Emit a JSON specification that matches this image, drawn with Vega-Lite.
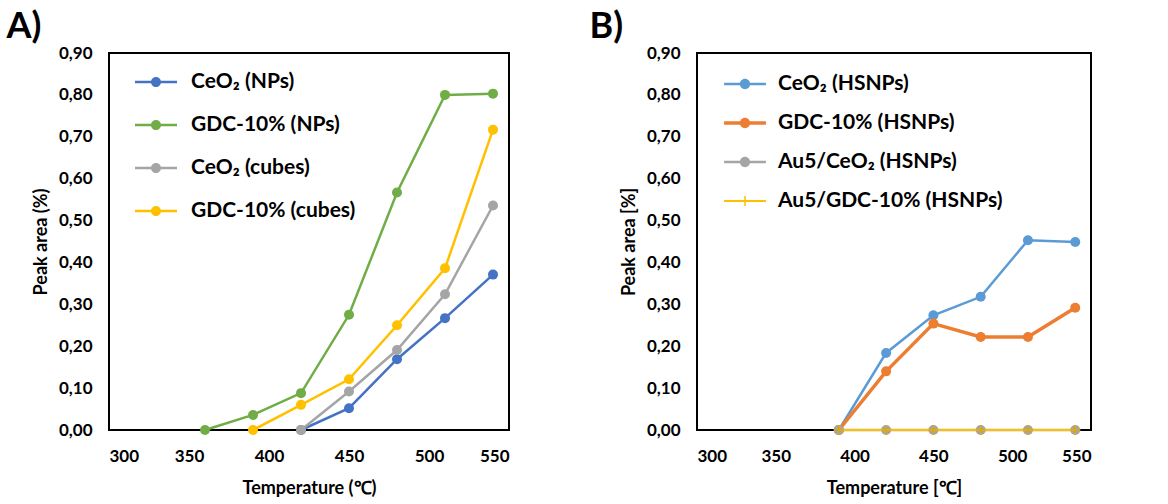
{
  "$schema": "https://vega.github.io/schema/vega-lite/v6.json",
  "padding": {"left": 5, "top": 8, "right": 5, "bottom": 5},
  "background": "white",
  "datasets": {
    "a": [
      {"series": "CeO₂ (NPs)", "t": 420, "v": 0},
      {"series": "CeO₂ (NPs)", "t": 450, "v": 0.052},
      {"series": "CeO₂ (NPs)", "t": 480, "v": 0.169},
      {"series": "CeO₂ (NPs)", "t": 510, "v": 0.267},
      {"series": "CeO₂ (NPs)", "t": 540, "v": 0.371},
      {"series": "GDC-10% (NPs)", "t": 360, "v": 0},
      {"series": "GDC-10% (NPs)", "t": 390, "v": 0.036},
      {"series": "GDC-10% (NPs)", "t": 420, "v": 0.088},
      {"series": "GDC-10% (NPs)", "t": 450, "v": 0.275},
      {"series": "GDC-10% (NPs)", "t": 480, "v": 0.567},
      {"series": "GDC-10% (NPs)", "t": 510, "v": 0.8},
      {"series": "GDC-10% (NPs)", "t": 540, "v": 0.803},
      {"series": "CeO₂ (cubes)", "t": 420, "v": 0},
      {"series": "CeO₂ (cubes)", "t": 450, "v": 0.092},
      {"series": "CeO₂ (cubes)", "t": 480, "v": 0.191},
      {"series": "CeO₂ (cubes)", "t": 510, "v": 0.324},
      {"series": "CeO₂ (cubes)", "t": 540, "v": 0.536},
      {"series": "GDC-10% (cubes)", "t": 390, "v": 0},
      {"series": "GDC-10% (cubes)", "t": 420, "v": 0.06},
      {"series": "GDC-10% (cubes)", "t": 450, "v": 0.121},
      {"series": "GDC-10% (cubes)", "t": 480, "v": 0.25},
      {"series": "GDC-10% (cubes)", "t": 510, "v": 0.386},
      {"series": "GDC-10% (cubes)", "t": 540, "v": 0.717}
    ],
    "b": [
      {"series": "CeO₂ (HSNPs)", "t": 390, "v": 0},
      {"series": "CeO₂ (HSNPs)", "t": 420, "v": 0.184},
      {"series": "CeO₂ (HSNPs)", "t": 450, "v": 0.274},
      {"series": "CeO₂ (HSNPs)", "t": 480, "v": 0.318},
      {"series": "CeO₂ (HSNPs)", "t": 510, "v": 0.453},
      {"series": "CeO₂ (HSNPs)", "t": 540, "v": 0.449},
      {"series": "GDC-10% (HSNPs)", "t": 390, "v": 0},
      {"series": "GDC-10% (HSNPs)", "t": 420, "v": 0.14},
      {"series": "GDC-10% (HSNPs)", "t": 450, "v": 0.254},
      {"series": "GDC-10% (HSNPs)", "t": 480, "v": 0.222},
      {"series": "GDC-10% (HSNPs)", "t": 510, "v": 0.222},
      {"series": "GDC-10% (HSNPs)", "t": 540, "v": 0.292},
      {"series": "Au5/CeO₂ (HSNPs)", "t": 390, "v": 0},
      {"series": "Au5/CeO₂ (HSNPs)", "t": 420, "v": 0},
      {"series": "Au5/CeO₂ (HSNPs)", "t": 450, "v": 0},
      {"series": "Au5/CeO₂ (HSNPs)", "t": 480, "v": 0},
      {"series": "Au5/CeO₂ (HSNPs)", "t": 510, "v": 0},
      {"series": "Au5/CeO₂ (HSNPs)", "t": 540, "v": 0},
      {"series": "Au5/GDC-10% (HSNPs)", "t": 390, "v": 0},
      {"series": "Au5/GDC-10% (HSNPs)", "t": 420, "v": 0},
      {"series": "Au5/GDC-10% (HSNPs)", "t": 450, "v": 0},
      {"series": "Au5/GDC-10% (HSNPs)", "t": 480, "v": 0},
      {"series": "Au5/GDC-10% (HSNPs)", "t": 510, "v": 0},
      {"series": "Au5/GDC-10% (HSNPs)", "t": 540, "v": 0}
    ]
  },
  "spacing": 78,
  "resolve": {
    "scale": {"color": "independent", "shape": "independent"},
    "legend": {"color": "independent", "shape": "independent"}
  },
  "hconcat": [
    {
      "width": 400,
      "height": 377,
      "title": {"text": "A)", "anchor": "start", "frame": "bounds", "fontSize": 36, "fontWeight": "bold", "font": "Lato", "color": "#000", "dx": -26, "offset": -2},
      "data": {"name": "a"},
      "encoding": {
        "x": {"field": "t", "type": "quantitative", "scale": {"domain": [300, 550], "nice": false, "zero": false}, "axis": {"title": "Temperature (℃)", "values": [300, 350, 400, 450, 500, 550]}},
        "y": {"field": "v", "type": "quantitative", "scale": {"domain": [0, 0.9], "nice": false}, "axis": {"title": "Peak area (%)", "values": [0, 0.1, 0.2, 0.3, 0.4, 0.5, 0.6, 0.7, 0.8, 0.9], "labelExpr": "replace(format(datum.value, '.2f'), '.', ',')"}},
        "color": {"field": "series", "type": "nominal", "scale": {"domain": ["CeO₂ (NPs)", "GDC-10% (NPs)", "CeO₂ (cubes)", "GDC-10% (cubes)"], "range": ["#4472C4", "#70AD47", "#A5A5A5", "#FFC000"]}, "legend": {"title": null, "orient": "none", "legendX": 26, "legendY": 8, "symbolSize": 1764, "rowPadding": 12, "labelOffset": 14, "symbolOpacity": 1, "symbolStrokeWidth": 0}}
      },
      "layer": [
        {
          "mark": {"type": "line", "strokeWidth": 2.5}
        },
        {
          "mark": {"type": "point", "filled": true, "size": 100, "opacity": 1, "shape": "circle"}
        },
        {
          "mark": {"type": "point", "filled": true, "opacity": 0},
          "encoding": {
            "shape": {"field": "series", "type": "nominal", "scale": {"domain": ["CeO₂ (NPs)", "GDC-10% (NPs)", "CeO₂ (cubes)", "GDC-10% (cubes)"], "range": ["M-1,-0.06H1V0.06H-1Z M-0.24,0A0.24,0.24 0 1,1 0.24,0A0.24,0.24 0 1,1 -0.24,0Z", "M-1,-0.06H1V0.06H-1Z M-0.24,0A0.24,0.24 0 1,1 0.24,0A0.24,0.24 0 1,1 -0.24,0Z", "M-1,-0.06H1V0.06H-1Z M-0.24,0A0.24,0.24 0 1,1 0.24,0A0.24,0.24 0 1,1 -0.24,0Z", "M-1,-0.06H1V0.06H-1Z M-0.24,0A0.24,0.24 0 1,1 0.24,0A0.24,0.24 0 1,1 -0.24,0Z"]}, "legend": {"title": null, "orient": "none", "legendX": 26, "legendY": 8, "symbolSize": 1764, "rowPadding": 12, "labelOffset": 14, "symbolOpacity": 1, "symbolStrokeWidth": 0}}
          }
        }
      ]
    },
    {
      "width": 394,
      "height": 377,
      "title": {"text": "B)", "anchor": "start", "frame": "bounds", "fontSize": 36, "fontWeight": "bold", "font": "Lato", "color": "#000", "dx": -31, "offset": -2},
      "data": {"name": "b"},
      "encoding": {
        "x": {"field": "t", "type": "quantitative", "scale": {"domain": [300, 550], "nice": false, "zero": false}, "axis": {"title": "Temperature [℃]", "values": [300, 350, 400, 450, 500, 550]}},
        "y": {"field": "v", "type": "quantitative", "scale": {"domain": [0, 0.9], "nice": false}, "axis": {"title": "Peak area [%]", "values": [0, 0.1, 0.2, 0.3, 0.4, 0.5, 0.6, 0.7, 0.8, 0.9], "labelExpr": "replace(format(datum.value, '.2f'), '.', ',')"}},
        "color": {"field": "series", "type": "nominal", "scale": {"domain": ["CeO₂ (HSNPs)", "GDC-10% (HSNPs)", "Au5/CeO₂ (HSNPs)", "Au5/GDC-10% (HSNPs)"], "range": ["#5B9BD5", "#ED7D31", "#A5A5A5", "#FFC000"]}, "legend": {"title": null, "orient": "none", "legendX": 29, "legendY": 12, "symbolSize": 1444, "rowPadding": 10, "labelOffset": 14, "symbolOpacity": 1, "symbolStrokeWidth": 0}}
      },
      "layer": [
        {
          "transform": [{"filter": "datum.series === 'CeO₂ (HSNPs)' || datum.series === 'Au5/CeO₂ (HSNPs)'"}],
          "mark": {"type": "line", "strokeWidth": 2.5}
        },
        {
          "transform": [{"filter": "datum.series === 'GDC-10% (HSNPs)'"}],
          "mark": {"type": "line", "strokeWidth": 3.5}
        },
        {
          "transform": [{"filter": "datum.series !== 'Au5/GDC-10% (HSNPs)'"}],
          "mark": {"type": "point", "filled": true, "size": 100, "opacity": 1, "shape": "circle"}
        },
        {
          "transform": [{"filter": "datum.series === 'Au5/GDC-10% (HSNPs)'"}],
          "mark": {"type": "line", "strokeWidth": 2}
        },
        {
          "transform": [{"filter": "datum.series === 'Au5/GDC-10% (HSNPs)'"}],
          "mark": {"type": "point", "filled": false, "size": 100, "opacity": 1, "strokeWidth": 1.5, "shape": "M-1,0H1M0,-1V1"},
          "encoding": {"color": {"value": "#E0A800"}}
        },
        {
          "mark": {"type": "point", "filled": true, "opacity": 0},
          "encoding": {
            "shape": {"field": "series", "type": "nominal", "scale": {"domain": ["CeO₂ (HSNPs)", "GDC-10% (HSNPs)", "Au5/CeO₂ (HSNPs)", "Au5/GDC-10% (HSNPs)"], "range": ["M-1.1,-0.066H1.1V0.066H-1.1Z M-0.27,0A0.27,0.27 0 1,1 0.27,0A0.27,0.27 0 1,1 -0.27,0Z", "M-1.1,-0.09H1.1V0.09H-1.1Z M-0.27,0A0.27,0.27 0 1,1 0.27,0A0.27,0.27 0 1,1 -0.27,0Z", "M-1.1,-0.066H1.1V0.066H-1.1Z M-0.27,0A0.27,0.27 0 1,1 0.27,0A0.27,0.27 0 1,1 -0.27,0Z", "M-1.1,-0.05H1.1V0.05H-1.1Z M-0.04,-0.26H0.04V0.26H-0.04Z"]}, "legend": {"title": null, "orient": "none", "legendX": 29, "legendY": 12, "symbolSize": 1444, "rowPadding": 10, "labelOffset": 14, "symbolOpacity": 1, "symbolStrokeWidth": 0}}
          }
        }
      ]
    }
  ],
  "config": {
    "font": "Lato",
    "view": {"stroke": "#000", "strokeWidth": 2},
    "axis": {"ticks": false, "domain": false, "grid": false, "labelFont": "Lato", "labelFontSize": 17, "labelFontWeight": "bold", "labelColor": "#000", "titleFont": "Lato", "titleFontSize": 18, "titleFontWeight": "bold", "titleColor": "#000"},
    "axisY": {"labelPadding": 17, "titlePadding": 8},
    "axisX": {"labelPadding": 18, "titlePadding": 15},
    "legend": {"labelFont": "Lato", "labelFontSize": 21, "labelFontWeight": "bold", "labelColor": "#000", "labelLimit": 400}
  }
}
